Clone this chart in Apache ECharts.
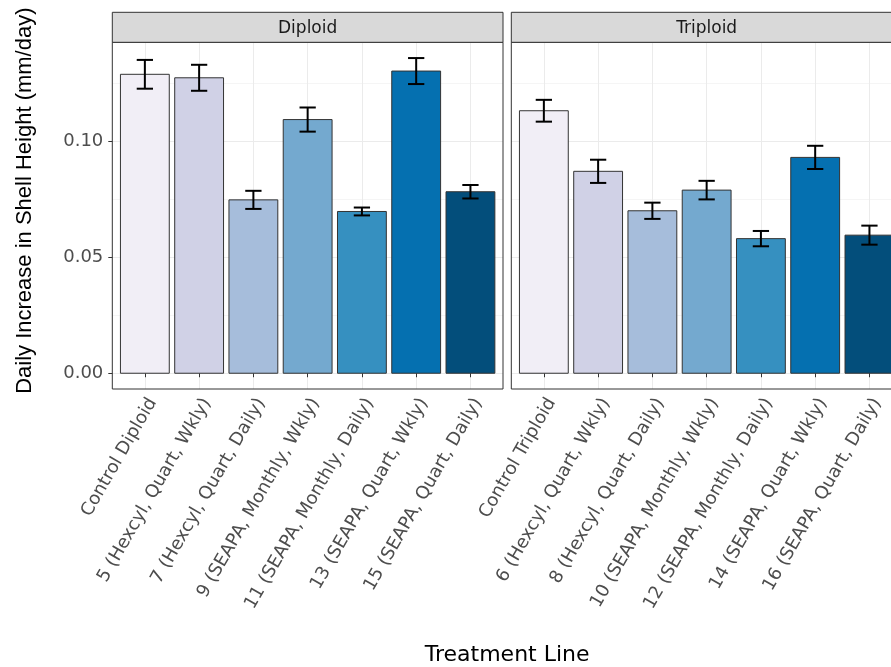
<!DOCTYPE html>
<html><head><meta charset="utf-8">
<script src="https://cdn.jsdelivr.net/npm/echarts@6/dist/echarts.min.js"></script>
<style>html,body{margin:0;padding:0;background:#fff}#c{width:891px;height:667px}</style>
</head><body><div id="c"></div>
<script>
// ---- data ----
const panels = ['Diploid', 'Triploid'];
const diploidLabels = ['Control Diploid', '5 (Hexcyl, Quart, Wkly)', '7 (Hexcyl, Quart, Daily)', '9 (SEAPA, Monthly, Wkly)', '11 (SEAPA, Monthly, Daily)', '13 (SEAPA, Quart, Wkly)', '15 (SEAPA, Quart, Daily)'];
const triploidLabels = ['Control Triploid', '6 (Hexcyl, Quart, Wkly)', '8 (Hexcyl, Quart, Daily)', '10 (SEAPA, Monthly, Wkly)', '12 (SEAPA, Monthly, Daily)', '14 (SEAPA, Quart, Wkly)', '16 (SEAPA, Quart, Daily)'];
const diploidMean = [0.1288, 0.1273, 0.0747, 0.1093, 0.0697, 0.1302, 0.0782];
const diploidSE = [0.0062, 0.0056, 0.0039, 0.0052, 0.0017, 0.0056, 0.0029];
const triploidMean = [0.1131, 0.0870, 0.0700, 0.0789, 0.0580, 0.0930, 0.0595];
const triploidSE = [0.0047, 0.0050, 0.0035, 0.0040, 0.0033, 0.0050, 0.0041];
const yMajorTicks = [0, 0.05, 0.10];
const yMinorTicks = [0.025, 0.075, 0.125];
const xTitle = 'Treatment Line';
const yTitle = 'Daily Increase in Shell Height (mm/day)';
const palette = ['#F1EEF6', '#D0D1E6', '#A6BDDB', '#74A9CF', '#3690C0', '#0570B0', '#034E7B'];

// ---- layout ----
const W = 891;
const G = [{left: 112.3, top: 42.3, width: 390.7, height: 346.7},
           {left: 511.3, top: 42.3, width: 390.7, height: 346.7}];
const stripTop = 12.3;
const labelFont = 'DejaVu Sans';
const tickColor = '#4D4D4D';
const xLo = 0.4, xSpan = 7.2;

// y range like ggplot (5% expansion of [0, max upper])
let maxUp = 0;
diploidMean.forEach((m, i) => { maxUp = Math.max(maxUp, m + diploidSE[i]); });
triploidMean.forEach((m, i) => { maxUp = Math.max(maxUp, m + triploidSE[i]); });
const yMin = -0.05 * maxUp, yMax = maxUp * 1.05;

const labelSets = [diploidLabels, triploidLabels];
const xs = diploidLabels.map((_, i) => i + 1);

function mkData(mean, se) { return mean.map((m, i) => [i + 1, m, se[i]]); }

function renderBar(params, api) {
  const x = api.value(0), y = api.value(1);
  const p0 = api.coord([x - 0.45, y]);
  const p1 = api.coord([x + 0.45, 0]);
  return {type: 'rect', shape: {x: p0[0], y: p0[1], width: p1[0] - p0[0], height: p1[1] - p0[1]},
    style: {fill: palette[params.dataIndex], stroke: '#333333', lineWidth: 1}};
}
function renderErr(params, api) {
  const x = api.value(0), m = api.value(1), s = api.value(2);
  const t = api.coord([x, m + s]), b = api.coord([x, m - s]);
  const l = api.coord([x - 0.15, m])[0], r = api.coord([x + 0.15, m])[0];
  const st = {stroke: '#000', lineWidth: 2};
  return {type: 'group', children: [
    {type: 'line', shape: {x1: t[0], y1: t[1], x2: b[0], y2: b[1]}, style: st},
    {type: 'line', shape: {x1: l, y1: t[1], x2: r, y2: t[1]}, style: st},
    {type: 'line', shape: {x1: l, y1: b[1], x2: r, y2: b[1]}, style: st}
  ]};
}

// visible part of each panel (the right panel runs past the page edge)
const vis = G.map(g => Math.min(g.width, W - g.left));
const grids = G.map((g, k) => ({show: false, containLabel: false,
  left: g.left, top: g.top, height: g.height, width: vis[k]}));

const xAxes = [0, 1].map(k => ({
  type: 'value', gridIndex: k, min: xLo, max: xLo + xSpan * vis[k] / G[k].width,
  axisLine: {show: false},
  axisTick: {show: true, length: 4, lineStyle: {color: '#333333', width: 1}, customValues: xs},
  axisLabel: {customValues: xs, formatter: v => labelSets[k][Math.round(v) - 1] || '',
    rotate: 60, align: 'right', verticalAlign: 'top', margin: 6,
    fontFamily: labelFont, fontSize: 18, color: tickColor},
  splitLine: {show: true, lineStyle: {color: '#EBEBEB', width: 1}}
}));

const yAxes = [];
[0, 1].forEach(k => {
  yAxes.push({
    type: 'value', gridIndex: k, min: yMin, max: yMax,
    axisLine: {show: false},
    axisTick: {show: k === 0, length: 4, lineStyle: {color: '#333333', width: 1}, customValues: yMajorTicks},
    axisLabel: {show: k === 0, customValues: yMajorTicks, formatter: v => v.toFixed(2), margin: 9,
      fontFamily: labelFont, fontSize: 18, color: tickColor},
    splitLine: {show: true, lineStyle: {color: '#EBEBEB', width: 1}}
  });
  yAxes.push({
    type: 'value', gridIndex: k, min: yMin, max: yMax,
    axisLine: {show: false},
    axisTick: {show: false, customValues: yMinorTicks},
    axisLabel: {show: false, customValues: yMinorTicks},
    splitLine: {show: true, lineStyle: {color: '#EBEBEB', width: 0.5}}
  });
});

const datasets = [mkData(diploidMean, diploidSE), mkData(triploidMean, triploidSE)];
const series = [];
[0, 1].forEach(k => {
  series.push({type: 'custom', xAxisIndex: k, yAxisIndex: k * 2, data: datasets[k], renderItem: renderBar, encode: {x: 0, y: 1}, z: 3});
  series.push({type: 'custom', xAxisIndex: k, yAxisIndex: k * 2, data: datasets[k], renderItem: renderErr, encode: {x: 0, y: [1, 2]}, z: 4});
});

const graphics = [];
G.forEach((g, k) => {
  // panel border
  graphics.push({type: 'rect', shape: {x: g.left, y: g.top, width: g.width, height: g.height},
    style: {fill: null, stroke: '#333333', lineWidth: 1}, z: 5});
  // facet strip
  graphics.push({type: 'rect', shape: {x: g.left, y: stripTop, width: g.width, height: g.top - stripTop},
    style: {fill: '#D9D9D9', stroke: '#333333', lineWidth: 1}, z: 10});
  graphics.push({type: 'text', x: g.left + g.width / 2, y: (stripTop + g.top) / 2 + 1,
    style: {text: panels[k], align: 'center', verticalAlign: 'middle', fontFamily: labelFont, fontSize: 17, fill: '#1A1A1A'}, z: 11});
});
graphics.push({type: 'text', x: (G[0].left + G[1].left + G[1].width) / 2, y: 655,
  style: {text: xTitle, align: 'center', verticalAlign: 'middle', fontFamily: labelFont, fontSize: 22, fill: '#000'}});
graphics.push({type: 'text', x: 25, y: (stripTop + G[0].top + G[0].height) / 2, rotation: Math.PI / 2,
  style: {text: yTitle, align: 'center', verticalAlign: 'middle', fontFamily: 'Liberation Sans', fontSize: 22, fill: '#000'}});

const chart = echarts.init(document.getElementById('c'), null, {renderer: 'canvas'});
chart.setOption({
  animation: false,
  backgroundColor: '#fff',
  grid: grids,
  xAxis: xAxes,
  yAxis: yAxes,
  series: series,
  graphic: graphics
});
</script></body></html>
